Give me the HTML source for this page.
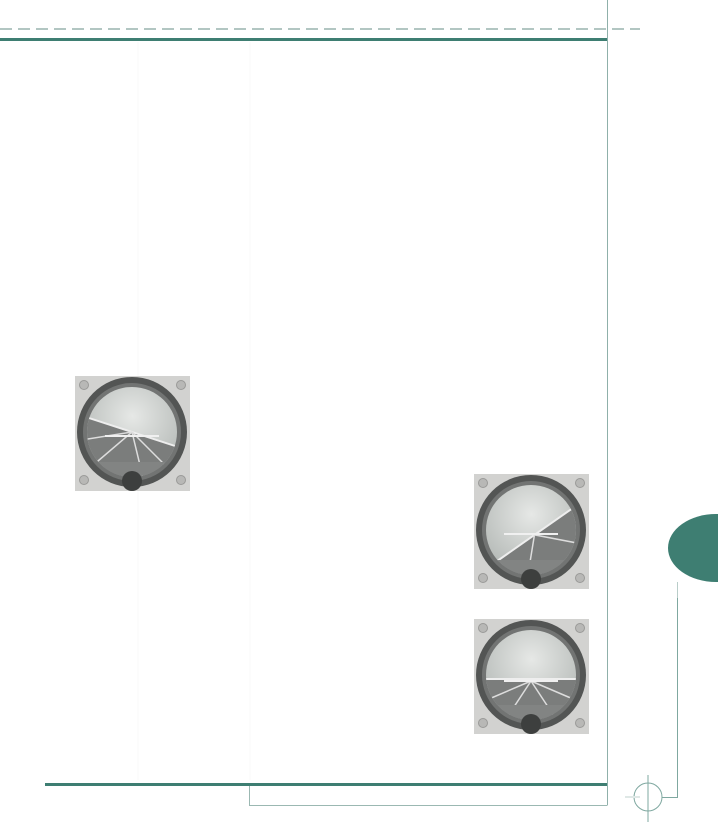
<!DOCTYPE html>
<html><head><meta charset="utf-8"><style>
html,body{margin:0;padding:0;background:#fff;}
body{width:718px;height:822px;position:relative;overflow:hidden;font-family:"Liberation Sans",sans-serif;}
svg{position:absolute;left:0;top:0;}
</style></head><body>
<svg width="718" height="822" viewBox="0 0 718 822">
<defs>
<radialGradient id="sky" cx="0.5" cy="0.35" r="0.6"><stop offset="0" stop-color="#e6e8e6"/><stop offset="1" stop-color="#aeb3b0"/></radialGradient>
<clipPath id="face"><circle cx="57" cy="56" r="45"/></clipPath>
<g id="gauge-base">
<rect x="0" y="0" width="115" height="115" fill="#d2d2d0"/>
<circle cx="9" cy="9" r="4.5" fill="#b8b8b6" stroke="#9a9a98"/>
<circle cx="106" cy="9" r="4.5" fill="#b8b8b6" stroke="#9a9a98"/>
<circle cx="9" cy="104" r="4.5" fill="#b8b8b6" stroke="#9a9a98"/>
<circle cx="106" cy="104" r="4.5" fill="#b8b8b6" stroke="#9a9a98"/>
<circle cx="57" cy="56" r="55" fill="#535554"/>
<circle cx="57" cy="56" r="49" fill="#727473"/>
</g>
<g id="gauge-bottom">
<g clip-path="url(#face)"><rect x="0" y="86" width="115" height="30" fill="#828483"/></g>
<circle cx="57" cy="105" r="10" fill="#3d3f3e"/>
</g>
</defs>
<g stroke="#f8f9f9" stroke-width="1">
<line x1="138" y1="42" x2="138" y2="780"/><line x1="250" y1="42" x2="250" y2="780"/>
</g>
<line x1="0" y1="29" x2="640" y2="29" stroke="#b2c6c2" stroke-width="2" stroke-dasharray="12,6"/>
<line x1="0" y1="39.5" x2="607" y2="39.5" stroke="#3e7e72" stroke-width="3"/>
<line x1="607.5" y1="0" x2="607.5" y2="805" stroke="#8fb0aa" stroke-width="1"/>
<line x1="45" y1="784.5" x2="607" y2="784.5" stroke="#3e7e72" stroke-width="3"/>
<path d="M249.5 786 V805.5 H607.5" fill="none" stroke="#9bb8b2" stroke-width="1"/>
<g stroke="#7fa8a0" stroke-width="1" fill="none">
<circle cx="648" cy="797" r="14"/>
<line x1="648" y1="775" x2="648" y2="822"/>
<line x1="625" y1="797" x2="640" y2="797" stroke="#dfe8e6" stroke-width="2"/>
<path d="M662 797.5 H677.5 V598"/>
</g>
<ellipse cx="716" cy="548" rx="48" ry="34" fill="#3e7e72"/>
<line x1="677.5" y1="582" x2="677.5" y2="598" stroke="#b9cdc9"/>

<g transform="translate(75,376)">
<use href="#gauge-base"/>
<g clip-path="url(#face)"><rect x="0" y="0" width="115" height="115" fill="url(#sky)"/>
<g transform="rotate(18 57 56)"><rect x="-30" y="56" width="180" height="90" fill="#7b7d7c"/><line x1="-30" y1="56" x2="150" y2="56" stroke="#eee" stroke-width="2"/>
<g stroke="#ddd" stroke-width="1.5"><line x1="57" y1="56" x2="10" y2="80"/><line x1="57" y1="56" x2="30" y2="100"/><line x1="57" y1="56" x2="84" y2="100"/><line x1="57" y1="56" x2="104" y2="80"/></g></g></g>
<line x1="30" y1="60" x2="84" y2="60" stroke="#f0f0f0" stroke-width="2"/>
<use href="#gauge-bottom"/>
</g>
<g transform="translate(474,474)">
<use href="#gauge-base"/>
<g clip-path="url(#face)"><rect x="0" y="0" width="115" height="115" fill="url(#sky)"/>
<g transform="rotate(-35 57 56)"><rect x="-30" y="62" width="180" height="90" fill="#7b7d7c"/><line x1="-30" y1="62" x2="150" y2="62" stroke="#eee" stroke-width="2"/>
<g stroke="#ddd" stroke-width="1.5"><line x1="57" y1="62" x2="20" y2="100"/><line x1="57" y1="62" x2="94" y2="100"/></g></g></g>
<line x1="30" y1="60" x2="84" y2="60" stroke="#f0f0f0" stroke-width="2"/>
<use href="#gauge-bottom"/>
</g>
<g transform="translate(474,619)">
<use href="#gauge-base"/>
<g clip-path="url(#face)"><rect x="0" y="0" width="115" height="115" fill="url(#sky)"/>
<rect x="0" y="60" width="115" height="60" fill="#7b7d7c"/><line x1="0" y1="60" x2="115" y2="60" stroke="#eee" stroke-width="2"/>
<g stroke="#ddd" stroke-width="1.5"><line x1="57" y1="62" x2="15" y2="80"/><line x1="57" y1="62" x2="32" y2="100"/><line x1="57" y1="62" x2="82" y2="100"/><line x1="57" y1="62" x2="99" y2="80"/></g></g>
<line x1="30" y1="62" x2="84" y2="62" stroke="#f0f0f0" stroke-width="2"/>
<use href="#gauge-bottom"/>
</g>
</svg>
</body></html>
